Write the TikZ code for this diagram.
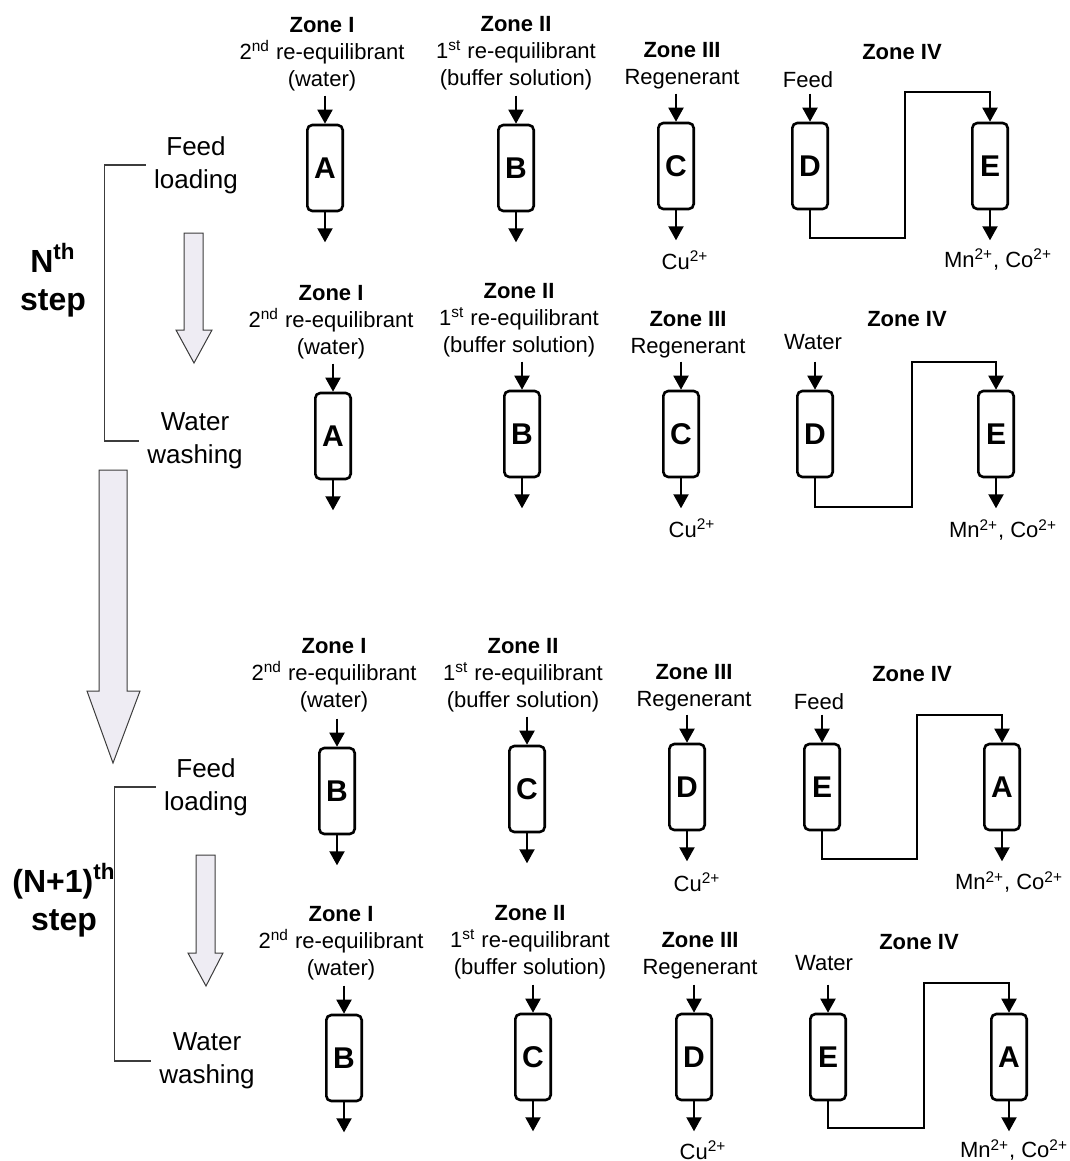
\documentclass[tikz,border=0pt]{standalone}
\usepackage{fontspec}
\setmainfont{Liberation Sans}
\usepackage{tikz}
\usepackage{xcolor}
\usetikzlibrary{arrows.meta,positioning}
\definecolor{cmlav}{RGB}{238,236,243}
\definecolor{cmgrey}{RGB}{60,60,60}
\tikzset{
  cmcol/.style={draw, line width=1.3pt, rounded corners=2.5pt, minimum width=17.7pt, minimum height=43pt, inner sep=0pt, font=\fontsize{15}{15}\selectfont\bfseries},
  cmzone/.style={align=center, inner sep=0pt, font=\fontsize{11}{13.5}\selectfont},
  cmlbl/.style={inner sep=0pt, font=\fontsize{11}{13.5}\selectfont},
  cmmode/.style={align=center, inner sep=4pt, font=\fontsize{13}{16.5}\selectfont},
  cmstep/.style={align=center, inner sep=0pt, font=\fontsize{16}{19}\selectfont\bfseries},
  cmarr/.style={-{Triangle[length=7pt,width=7.5pt]}, line width=1pt},
  cmbrace/.style={line width=0.6pt, draw=cmgrey},
  cmbig/.style={draw=cmgrey, line width=0.5pt, fill=cmlav}
}

\begin{document}
\begin{tikzpicture}[x=0.5pt, y=-0.5pt]
  \useasboundingbox (0,0) rectangle (1070,1161);
  \node[cmzone] (zoneI1) at (322,54) {\textbf{Zone I}\\2\textsuperscript{nd} re-equilibrant\\(water)};
  \node[cmzone] (zoneII1) at (516,53) {\textbf{Zone II}\\1\textsuperscript{st} re-equilibrant\\(buffer solution)};
  \node[cmzone] (zoneIII1) at (682,66) {\textbf{Zone III}\\Regenerant};
  \node[cmzone] (zoneIV1) at (902,52) {\textbf{Zone IV}};
  \node[cmlbl] (feed1) at (808,80) {Feed};
  \node[cmcol] (colA1) at (325,168) {A};
  \node[cmcol] (colB1) at (516,168) {B};
  \node[cmcol] (colC1) at (676,166) {C};
  \node[cmcol] (colD1) at (810,166) {D};
  \node[cmcol] (colE1) at (990,166) {E};
  \node[cmlbl] (cu1) at (685,260) {Cu\textsuperscript{2+}};
  \node[cmlbl] (mn1) at (998,260) {Mn\textsuperscript{2+}, Co\textsuperscript{2+}};
  \coordinate (pipeB1) at (905,238);
  \coordinate (pipeT1) at (905,92);
  \draw[cmarr] (colD1) |- (pipeB1) -- (pipeT1) -| (colE1);

  \node[cmzone] (zoneI2) at (331,322) {\textbf{Zone I}\\2\textsuperscript{nd} re-equilibrant\\(water)};
  \node[cmzone] (zoneII2) at (519,320) {\textbf{Zone II}\\1\textsuperscript{st} re-equilibrant\\(buffer solution)};
  \node[cmzone] (zoneIII2) at (688,335) {\textbf{Zone III}\\Regenerant};
  \node[cmzone] (zoneIV2) at (907,319) {\textbf{Zone IV}};
  \node[cmlbl] (water2) at (813,342) {Water};
  \node[cmcol] (colA2) at (333,436) {A};
  \node[cmcol] (colB2) at (522,434) {B};
  \node[cmcol] (colC2) at (681,434) {C};
  \node[cmcol] (colD2) at (815,434) {D};
  \node[cmcol] (colE2) at (996,434) {E};
  \node[cmlbl] (cu2) at (692,528) {Cu\textsuperscript{2+}};
  \node[cmlbl] (mn2) at (1003,530) {Mn\textsuperscript{2+}, Co\textsuperscript{2+}};
  \coordinate (pipeB2) at (912,507);
  \coordinate (pipeT2) at (912,362);
  \draw[cmarr] (colD2) |- (pipeB2) -- (pipeT2) -| (colE2);

  \node[cmzone] (zoneI3) at (334,675) {\textbf{Zone I}\\2\textsuperscript{nd} re-equilibrant\\(water)};
  \node[cmzone] (zoneII3) at (523,675) {\textbf{Zone II}\\1\textsuperscript{st} re-equilibrant\\(buffer solution)};
  \node[cmzone] (zoneIII3) at (694,688) {\textbf{Zone III}\\Regenerant};
  \node[cmzone] (zoneIV3) at (912,674) {\textbf{Zone IV}};
  \node[cmlbl] (feed3) at (819,702) {Feed};
  \node[cmcol] (colB3) at (337,791) {B};
  \node[cmcol] (colC3) at (527,789) {C};
  \node[cmcol] (colD3) at (687,787) {D};
  \node[cmcol] (colE3) at (822,787) {E};
  \node[cmcol] (colA3) at (1002,787) {A};
  \node[cmlbl] (cu3) at (697,882) {Cu\textsuperscript{2+}};
  \node[cmlbl] (mn3) at (1009,882) {Mn\textsuperscript{2+}, Co\textsuperscript{2+}};
  \coordinate (pipeB3) at (917,859);
  \coordinate (pipeT3) at (917,715);
  \draw[cmarr] (colE3) |- (pipeB3) -- (pipeT3) -| (colA3);

  \node[cmzone] (zoneI4) at (341,943) {\textbf{Zone I}\\2\textsuperscript{nd} re-equilibrant\\(water)};
  \node[cmzone] (zoneII4) at (530,942) {\textbf{Zone II}\\1\textsuperscript{st} re-equilibrant\\(buffer solution)};
  \node[cmzone] (zoneIII4) at (700,956) {\textbf{Zone III}\\Regenerant};
  \node[cmzone] (zoneIV4) at (919,942) {\textbf{Zone IV}};
  \node[cmlbl] (water4) at (824,963) {Water};
  \node[cmcol] (colB4) at (344,1058) {B};
  \node[cmcol] (colC4) at (533,1057) {C};
  \node[cmcol] (colD4) at (694,1057) {D};
  \node[cmcol] (colE4) at (828,1057) {E};
  \node[cmcol] (colA4) at (1009,1057) {A};
  \node[cmlbl] (cu4) at (703,1150) {Cu\textsuperscript{2+}};
  \node[cmlbl] (mn4) at (1014,1150) {Mn\textsuperscript{2+}, Co\textsuperscript{2+}};
  \coordinate (pipeB4) at (924,1128);
  \coordinate (pipeT4) at (924,983);
  \draw[cmarr] (colE4) |- (pipeB4) -- (pipeT4) -| (colA4);

  \foreach \n in {A1,B1,C1,D1,A2,B2,C2,D2,B3,C3,D3,E3,B4,C4,D4,E4} {
    \coordinate[above=14pt of col\n] (in\n);
    \draw[cmarr] (in\n) -- (col\n);
  }
  \foreach \n in {A1,B1,C1,E1,A2,B2,C2,E2,B3,C3,D3,A3,B4,C4,D4,A4} {
    \coordinate[below=15pt of col\n] (out\n);
    \draw[cmarr] (col\n) -- (out\n);
  }

  \node[cmmode] (loadN) at (196,165) {Feed\\loading};
  \node[cmmode] (washN) at (195,441) {Water\\washing};
  \node[cmmode] (loadN1) at (206,787) {Feed\\loading};
  \node[cmmode] (washN1) at (207,1061) {Water\\washing};
  \node[cmstep] (stepN) at (53,280) {N\textsuperscript{th}\\step};
  \node[cmstep] (stepN1) at (64,900) {(N+1)\textsuperscript{th}\\step};
  \draw[cmbrace] (loadN.west) -- ++(-41,0) |- (washN.west);
  \draw[cmbrace] (loadN1.west) -- ++(-41,0) |- (washN1.west);

  \draw[cmbig] (184,233) -- (203,233) -- (203,330) -- (212,330) -- (194,363) -- (176,330) -- (184,330) -- cycle;
  \draw[cmbig] (99,470) -- (127,470) -- (127,691) -- (140,691) -- (113,763) -- (87,691) -- (99,691) -- cycle;
  \draw[cmbig] (196,855) -- (215,855) -- (215,953) -- (223,953) -- (206,986) -- (188,953) -- (196,953) -- cycle;
\end{tikzpicture}
\end{document}
